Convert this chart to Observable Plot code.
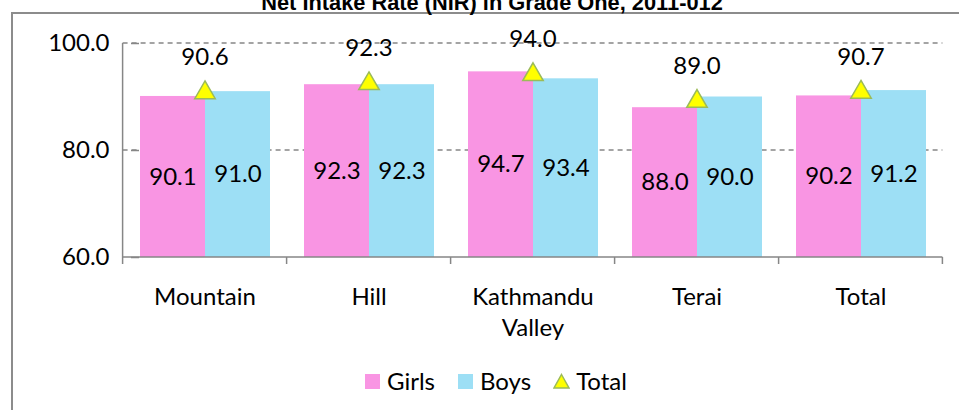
<!DOCTYPE html>
<html>
<head>
<meta charset="utf-8">
<script src="https://cdn.jsdelivr.net/npm/d3@7"></script>
<script src="https://cdn.jsdelivr.net/npm/@observablehq/plot@0.6"></script>
<style>
  html, body { margin: 0; padding: 0; background: #fff; }
  #page { position: relative; width: 959px; height: 410px; overflow: hidden; background: #fff; }
  #frame { position: absolute; left: 11px; top: 12px; width: 1000px; height: 500px;
           border-left: 2px solid #8c8c8c; border-top: 2px solid #8c8c8c; box-sizing: border-box; }
  #title { position: absolute; left: 0; width: 959px; top: -10px; text-align: center; padding-left: 25px; box-sizing: border-box;
           font-family: "Liberation Sans Narrow", "Liberation Sans", Arial, sans-serif;
           font-weight: bold; font-size: 21.8px; color: #000; white-space: nowrap; }
  #chart { position: absolute; left: 0; top: 0; }
  #legend { position: absolute; left: 0; width: 959px; top: 366px; display: flex; justify-content: center;
            align-items: center; font-family: Lato, "Open Sans", sans-serif; font-size: 24px; color: #000; padding-left: 32px; box-sizing: border-box; }
  #legend .item { display: flex; align-items: center; margin: 0 11px; }
  #legend svg { margin-right: 6px; }
</style>
</head>
<body>
<div id="page">
  <div id="frame"></div>
  <div id="title"></div>
  <div id="chart"></div>
  <div id="legend"></div>
</div>
<script>
const title = "Net Intake Rate (NIR) in Grade One, 2011-012";
const categories = ["Mountain", "Hill", "Kathmandu Valley", "Terai", "Total"];
const girls = [90.1, 92.3, 94.7, 88.0, 90.2];
const boys = [91.0, 92.3, 93.4, 90.0, 91.2];
const total = [90.6, 92.3, 94.0, 89.0, 90.7];
const series = ["Girls", "Boys"];
const yTicks = [60, 80, 100];
const yDomain = [60, 100];
const colors = {Girls: "#f995e3", Boys: "#9ddff5", Total: "#ffff00"};
const triStroke = "#9bbb59";

const bars = [];
categories.forEach((c, i) => {
  bars.push({category: c, series: "Girls", value: girls[i]});
  bars.push({category: c, series: "Boys", value: boys[i]});
});
const totals = categories.map((c, i) => ({category: c, value: total[i]}));

document.getElementById("title").textContent = title;

const W = 959, H = 340;
const font = "Lato, 'Open Sans', sans-serif";
const axisGrey = "#868686";
const chart = Plot.plot({
  width: W, height: H,
  marginTop: 43, marginBottom: 83, marginLeft: 121, marginRight: 14,
  style: {fontFamily: font, background: "transparent", overflow: "visible"},
  fx: {domain: categories, paddingInner: 0.2, paddingOuter: 0.1, label: null, axis: null},
  x: {domain: series, padding: 0, axis: null},
  y: {domain: yDomain, ticks: yTicks, label: null},
  color: {domain: ["Girls", "Boys"], range: [colors.Girls, colors.Boys]},
  marks: [
    Plot.barY(bars, {fx: "category", x: "series", y1: yDomain[0], y2: "value", fill: "series"}),
    Plot.text(bars, {fx: "category", x: "series", y: d => (yDomain[0] + d.value) / 2, text: d => d.value.toFixed(1), fontSize: 24, fill: "#000"}),
    Plot.dot(totals, {fx: "category", y: "value", symbol: "triangle", r: 7.6, dy: -1, fill: colors.Total, stroke: triStroke, strokeWidth: 1.5}),
    Plot.text(totals, {fx: "category", y: "value", text: d => d.value.toFixed(1), dy: -36, fontSize: 24, fill: "#000"}),
    Plot.axisY({ticks: yTicks, tickFormat: d => d.toFixed(1), tickSize: 8, tickPadding: 22, fontSize: 24, stroke: axisGrey, strokeWidth: 1.5, fill: "#000"}),
    Plot.axisFx({anchor: "bottom", tickFormat: d => d.replace(" ", "\n"), tickSize: 0, tickPadding: 25, fontSize: 24, lineHeight: 1.3, fill: "#000", label: null})
  ]
});
document.getElementById("chart").appendChild(chart);

// Gridlines, category boundary ticks and axis lines, positioned from Plot's own scales
const fx = chart.scale("fx");
const y = chart.scale("y");
const svg = d3.select(chart);
const half = fx.step * fx.paddingInner / 2;
const bounds = categories.map(c => fx.apply(c) - half);
bounds.push(fx.apply(categories[categories.length - 1]) + fx.bandwidth + half);
const y0 = y.apply(yDomain[0]);
const xL = bounds[0], xR = bounds[bounds.length - 1];
const overlay = svg.insert("g", ":first-child");
overlay.append("g").attr("stroke", axisGrey).attr("stroke-width", 1.5).attr("stroke-dasharray", "5,4")
  .selectAll("line").data(yTicks.filter(t => t > yDomain[0])).join("line")
  .attr("x1", xL).attr("x2", xR).attr("y1", d => y.apply(d)).attr("y2", d => y.apply(d));
const axes = svg.append("g").attr("stroke", axisGrey).attr("stroke-width", 1.5).attr("fill", "none");
axes.selectAll("line.b").data(bounds).join("line").attr("class", "b")
  .attr("x1", d => d).attr("x2", d => d).attr("y1", y0).attr("y2", y0 + 7);
axes.append("line").attr("x1", xL).attr("x2", xR).attr("y1", y0).attr("y2", y0);
axes.append("line").attr("x1", xL).attr("x2", xL).attr("y1", y.apply(yDomain[1])).attr("y2", y0);

// Legend
const legend = document.getElementById("legend");
const items = [
  {label: "Girls", kind: "rect", color: colors.Girls},
  {label: "Boys", kind: "rect", color: colors.Boys},
  {label: "Total", kind: "tri", color: colors.Total}
];
items.forEach(it => {
  const div = document.createElement("div");
  div.className = "item";
  const s = d3.create("svg").attr("width", 17).attr("height", 16);
  if (it.kind === "rect") s.append("rect").attr("x", 1).attr("y", 1).attr("width", 15).attr("height", 15).attr("fill", it.color);
  else s.append("path").attr("d", "M8.5,1.5 L16,15 L1,15 Z").attr("fill", it.color).attr("stroke", triStroke).attr("stroke-width", 1.5);
  div.appendChild(s.node());
  const t = document.createElement("span");
  t.textContent = it.label;
  div.appendChild(t);
  legend.appendChild(div);
});
</script>
</body>
</html>
